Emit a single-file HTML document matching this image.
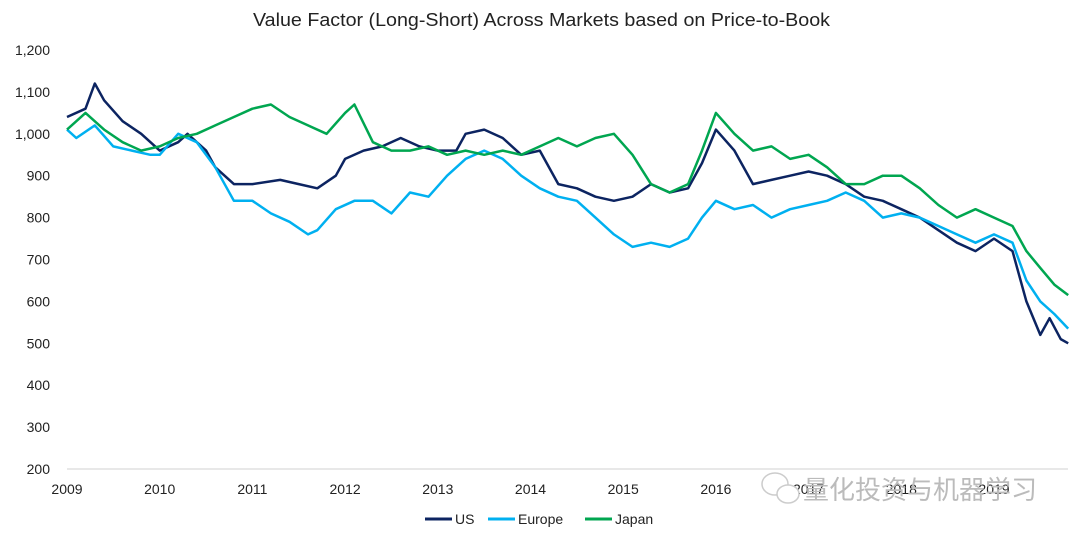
<!DOCTYPE html>
<html><head><meta charset="utf-8"><style>
body{margin:0;background:#fff;font-family:"Liberation Sans",Arial,sans-serif}
svg text{font-family:"Liberation Sans",Arial,sans-serif}
</style></head><body>
<svg id="chart" width="1080" height="540">
<text x="253" y="26" font-size="18" textLength="577" lengthAdjust="spacingAndGlyphs" fill="#222">Value Factor (Long-Short) Across Markets based on Price-to-Book</text>
<g id="yaxis"></g>
<g id="xaxis"></g>
<g id="series"></g>
<g>
<ellipse cx="775" cy="484" rx="13" ry="11" fill="none" stroke="#ccc" stroke-width="1.5"/>
<ellipse cx="788" cy="494" rx="11" ry="9" fill="#fff" stroke="#ccc" stroke-width="1.5"/>
<text x="803" y="499" font-size="26" fill="#bbb" font-family="Noto Sans CJK SC">量化投资与机器学习</text>
</g>
<g id="legend"></g>
</svg>
<script>
const yTicks=[200,300,400,500,600,700,800,900,1000,1100,1200];
const xTicks=[2009,2010,2011,2012,2013,2014,2015,2016,2017,2018,2019];
const seriesNames=["US","Europe","Japan"];
const usT=[2009.0,2009.2,2009.3,2009.4,2009.6,2009.8,2010.0,2010.2,2010.3,2010.5,2010.6,2010.8,2011.0,2011.3,2011.5,2011.7,2011.9,2012.0,2012.2,2012.4,2012.6,2012.8,2013.0,2013.2,2013.3,2013.5,2013.7,2013.9,2014.1,2014.3,2014.5,2014.7,2014.9,2015.1,2015.3,2015.5,2015.7,2015.85,2016.0,2016.2,2016.4,2016.6,2016.8,2017.0,2017.2,2017.4,2017.6,2017.8,2018.0,2018.2,2018.4,2018.6,2018.8,2019.0,2019.2,2019.35,2019.5,2019.6,2019.72,2019.8];
const usV=[1040,1060,1120,1080,1030,1000,960,980,1000,960,920,880,880,890,880,870,900,940,960,970,990,970,960,960,1000,1010,990,950,960,880,870,850,840,850,880,860,870,930,1010,960,880,890,900,910,900,880,850,840,820,800,770,740,720,750,720,600,520,560,510,500];
const euT=[2009.0,2009.1,2009.3,2009.5,2009.7,2009.9,2010.0,2010.2,2010.4,2010.6,2010.8,2011.0,2011.2,2011.4,2011.6,2011.7,2011.9,2012.1,2012.3,2012.5,2012.7,2012.9,2013.1,2013.3,2013.5,2013.7,2013.9,2014.1,2014.3,2014.5,2014.7,2014.9,2015.1,2015.3,2015.5,2015.7,2015.85,2016.0,2016.2,2016.4,2016.6,2016.8,2017.0,2017.2,2017.4,2017.6,2017.8,2018.0,2018.2,2018.4,2018.6,2018.8,2019.0,2019.2,2019.35,2019.5,2019.65,2019.8];
const euV=[1010,990,1020,970,960,950,950,1000,980,920,840,840,810,790,760,770,820,840,840,810,860,850,900,940,960,940,900,870,850,840,800,760,730,740,730,750,800,840,820,830,800,820,830,840,860,840,800,810,800,780,760,740,760,740,650,600,570,535];
const jpT=[2009.0,2009.2,2009.4,2009.6,2009.8,2010.0,2010.2,2010.4,2010.6,2010.8,2011.0,2011.2,2011.4,2011.6,2011.8,2012.0,2012.1,2012.3,2012.5,2012.7,2012.9,2013.1,2013.3,2013.5,2013.7,2013.9,2014.1,2014.3,2014.5,2014.7,2014.9,2015.1,2015.3,2015.5,2015.7,2015.85,2016.0,2016.2,2016.4,2016.6,2016.8,2017.0,2017.2,2017.4,2017.6,2017.8,2018.0,2018.2,2018.4,2018.6,2018.8,2019.0,2019.2,2019.35,2019.5,2019.65,2019.8];
const jpV=[1010,1050,1010,980,960,970,990,1000,1020,1040,1060,1070,1040,1020,1000,1050,1070,980,960,960,970,950,960,950,960,950,970,990,970,990,1000,950,880,860,880,960,1050,1000,960,970,940,950,920,880,880,900,900,870,830,800,820,800,780,720,680,640,615];
const colors=["#0c2461","#00b0f0","#00a650"];
const NS="http://www.w3.org/2000/svg";
const X=t=>67+(t-2009)*92.7;
const Y=v=>469-(v-200)*0.419;
function mk(tag,attrs,parent){const e=document.createElementNS(NS,tag);for(const k in attrs)e.setAttribute(k,attrs[k]);parent.appendChild(e);return e;}
const ya=document.getElementById('yaxis');
yTicks.forEach(v=>{const t=mk('text',{x:50,y:Y(v)+5,'text-anchor':'end','font-size':14,fill:'#222'},ya);t.textContent=v.toLocaleString('en-US');

});
const xa=document.getElementById('xaxis');
const ax=mk('line',{x1:X(2009),x2:1068,y1:469,y2:469,stroke:'#d9d9d9','stroke-width':1.3},xa);


xTicks.forEach(v=>{const t=mk('text',{x:X(v),y:494,'text-anchor':'middle','font-size':14,fill:'#222'},xa);t.textContent=v;

});
const sg=document.getElementById('series');
[[usT,usV],[euT,euV],[jpT,jpV]].forEach((s,i)=>{const d=s[0].map((t,j)=>(j?'L':'M')+X(t).toFixed(1)+','+Y(s[1][j]).toFixed(1)).join('');
const p=mk('path',{d:d,fill:'none',stroke:colors[i],'stroke-width':2.5,'stroke-linejoin':'round'},sg);

});
const lg=document.getElementById('legend');
const lx=[425,488,585];
seriesNames.forEach((n,i)=>{mk('line',{x1:lx[i],x2:lx[i]+27,y1:519,y2:519,stroke:colors[i],'stroke-width':3},lg);
const t=mk('text',{x:lx[i]+30,y:524,'font-size':14,fill:'#222'},lg);t.textContent=n;

});
</script>
</body></html>
